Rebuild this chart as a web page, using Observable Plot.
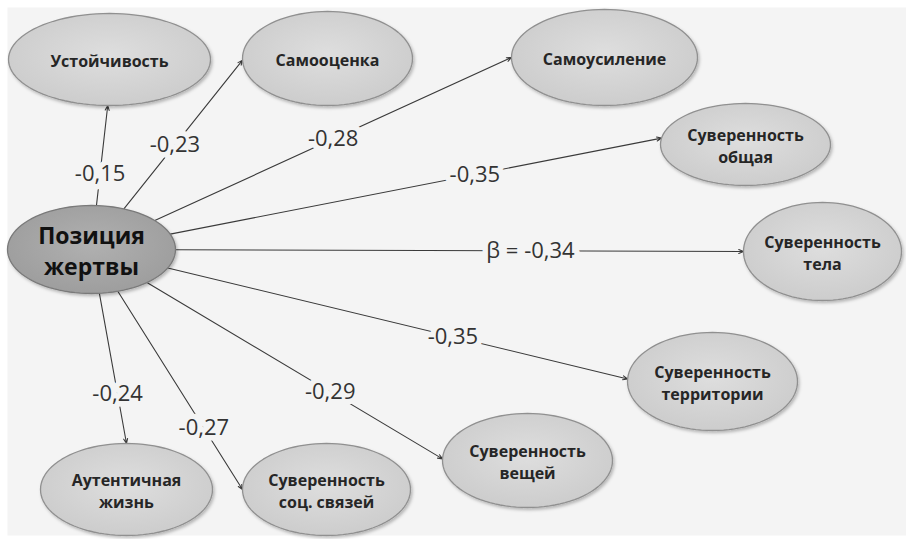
<!DOCTYPE html>
<html>
<head>
<meta charset="utf-8">
<script src="https://cdn.jsdelivr.net/npm/d3@7"></script>
<script src="https://cdn.jsdelivr.net/npm/@observablehq/plot@0.6"></script>
<style>
  html, body { margin: 0; padding: 0; background: #ffffff; }
  #chart { width: 906px; height: 539px; }
  svg { display: block; }
</style>
</head>
<body>
<div id="chart"></div>
<script>
// ---- Data (layout of the path diagram) ----
const nodeNames = [
  "Позиция\nжертвы",
  "Устойчивость",
  "Самооценка",
  "Самоусиление",
  "Суверенность\nобщая",
  "Суверенность\nтела",
  "Суверенность\nтерритории",
  "Суверенность\nвещей",
  "Суверенность\nсоц. связей",
  "Аутентичная\nжизнь"
];
const nodeX  = [91, 109, 327, 604, 745, 822, 712, 527, 326, 126];
const nodeY  = [249, 59, 58, 57, 144, 251, 381, 460, 489, 489];
const nodeRx = [84, 101, 85, 93, 85, 79, 85, 85, 84, 86];
const nodeRy = [44, 46, 47, 48, 41, 49, 49, 47, 46, 46];

// edges from node 0 to targets
const edgeTargets = [1, 2, 3, 4, 5, 6, 7, 8, 9];
const edgeLabels  = ["-0,15", "-0,23", "-0,28", "-0,35", "β = -0,34", "-0,35", "-0,29", "-0,27", "-0,24"];
const edgeAttachDeg = [91, 178, 180, 189, 180, 183, 182, 180, 270]; // where the arrow meets the target ellipse
const edgeLabelT = [0.32, 0.43, 0.5, 0.62, 0.625, 0.62, 0.62, 0.69, 0.67]; // label position along edge

// ---- Derived geometry ----
const nodes = nodeNames.map((name, i) => ({id: i, name, x: nodeX[i], y: nodeY[i], rx: nodeRx[i], ry: nodeRy[i]}));

function ellipsePoints(n) {
  const pts = [];
  for (let k = 0; k < 96; k++) {
    const a = (k / 96) * 2 * Math.PI;
    pts.push({id: n.id, x: n.x + n.rx * Math.cos(a), y: n.y + n.ry * Math.sin(a)});
  }
  return pts;
}
const centerOutline = ellipsePoints(nodes[0]);
const outerOutline = nodes.slice(1).flatMap(ellipsePoints);

const src = nodes[0];
const edges = edgeTargets.map((t, i) => {
  const n = nodes[t];
  const a = edgeAttachDeg[i] * Math.PI / 180;
  const x2 = n.x + n.rx * Math.cos(a);
  const y2 = n.y + n.ry * Math.sin(a);
  const dx = x2 - src.x, dy = y2 - src.y;
  const s = 1 / Math.sqrt((dx / src.rx) ** 2 + (dy / src.ry) ** 2);
  const x1 = src.x + dx * s, y1 = src.y + dy * s;
  const lt = edgeLabelT[i];
  return {x1, y1, x2, y2, label: edgeLabels[i], lx: x1 + (x2 - x1) * lt, ly: y1 + (y2 - y1) * lt};
});

const bg = "#f4f4f4";

const chart = Plot.plot({
  width: 906,
  height: 539,
  marginTop: 7,
  marginLeft: 7,
  marginRight: 0,
  marginBottom: 4,
  x: {domain: [7, 906], range: [7, 906], axis: null},
  y: {domain: [7, 535], range: [7, 535], axis: null},
  style: {background: "#ffffff", overflow: "visible"},
  marks: [
    Plot.frame({fill: bg, stroke: null}),
    Plot.arrow(edges, {
      x1: "x1", y1: "y1", x2: "x2", y2: "y2",
      stroke: "#3a3a3a", strokeWidth: 1.1, headLength: 7, headAngle: 45
    }),
    Plot.text(edges, {
      x: "lx", y: "ly", text: "label",
      fontSize: 22, fill: "#333333", stroke: bg, strokeWidth: 11,
      fontFamily: "'Open Sans', sans-serif"
    }),
    Plot.line(outerOutline, {
      x: "x", y: "y", z: "id", curve: "linear-closed",
      fill: "url(#gradOuter)", stroke: "#909090", strokeWidth: 1.3
    }),
    Plot.line(centerOutline, {
      x: "x", y: "y", z: "id", curve: "linear-closed",
      fill: "url(#gradCenter)", stroke: "#7a7a7a", strokeWidth: 1.3
    }),
    Plot.text(nodes.slice(1), {
      x: "x", y: "y", text: "name",
      fontSize: 16, fontWeight: "bold", lineHeight: 1.38,
      fill: "#262626", fontFamily: "'Open Sans', sans-serif"
    }),
    Plot.text([nodes[0]], {
      x: "x", y: "y", text: "name",
      fontSize: 23, fontWeight: "bold", lineHeight: 1.35,
      fill: "#111111", fontFamily: "'Open Sans', sans-serif"
    })
  ]
});

chart.insertAdjacentHTML("afterbegin", `
<defs>
  <radialGradient id="gradOuter" cx="50%" cy="45%" r="60%">
    <stop offset="0%" stop-color="#dedede"/>
    <stop offset="100%" stop-color="#cbcbcb"/>
  </radialGradient>
  <radialGradient id="gradCenter" cx="50%" cy="45%" r="60%">
    <stop offset="0%" stop-color="#b0b0b0"/>
    <stop offset="100%" stop-color="#9c9c9c"/>
  </radialGradient>
  <filter id="shadow" x="-10%" y="-10%" width="125%" height="130%">
    <feDropShadow dx="1.5" dy="2" stdDeviation="1.5" flood-color="#000" flood-opacity="0.25"/>
  </filter>
</defs>`);

// soft drop shadow on the ellipses
chart.querySelectorAll('[fill="url(#gradOuter)"], [fill="url(#gradCenter)"]').forEach(g => g.setAttribute("filter", "url(#shadow)"));

document.getElementById("chart").appendChild(chart);
</script>
</body>
</html>
